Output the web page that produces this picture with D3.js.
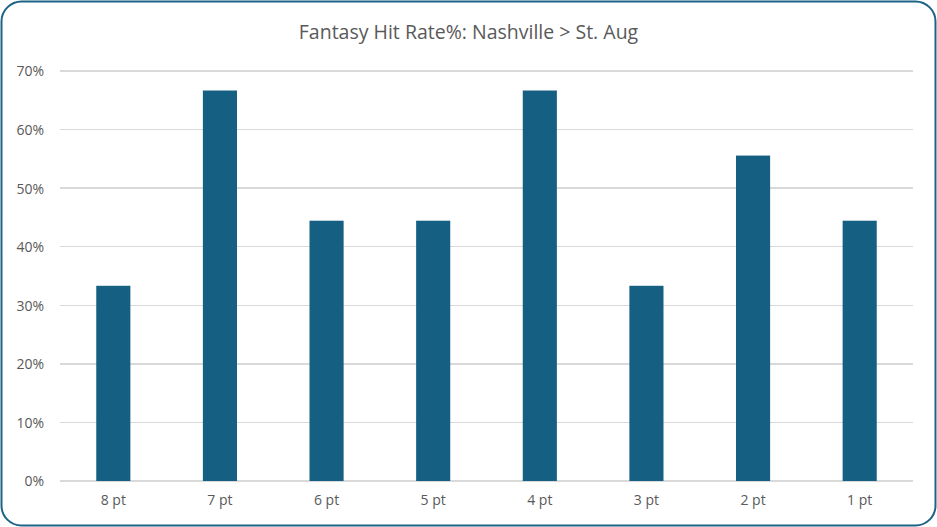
<!DOCTYPE html>
<html>
<head>
<meta charset="utf-8">
<script src="https://cdn.jsdelivr.net/npm/d3@7.8.5/dist/d3.min.js"></script>
<style>
    html, body { margin: 0; padding: 0; background: #fff; }
    svg { display: block; }
    .grid line { stroke: #d9d9d9; stroke-width: 1.5px; shape-rendering: crispEdges; }
</style>
</head>
<body>
<script>
    // Данные графика
    const categories = ['8 pt', '7 pt', '6 pt', '5 pt', '4 pt', '3 pt', '2 pt', '1 pt'];
    const hitRates = [0.3333, 0.6667, 0.4444, 0.4444, 0.6667, 0.3333, 0.5556, 0.4444];
    const yTicks = [0, 0.1, 0.2, 0.3, 0.4, 0.5, 0.6, 0.7];
    const title = 'Fantasy Hit Rate%: Nashville > St. Aug';

    const width = 937, height = 527;
    const plot = { left: 60, right: 913, top: 71, bottom: 481 };
    const font = '"Open Sans", "Noto Sans", sans-serif';

    const svg = d3.select('body').append('svg')
        .attr('width', width)
        .attr('height', height);

    // Рамка
    svg.append('rect')
        .attr('x', 1.5).attr('y', 1.5)
        .attr('width', width - 3).attr('height', height - 3)
        .attr('rx', 20).attr('ry', 20)
        .attr('fill', '#fff')
        .attr('stroke', '#1d6388')
        .attr('stroke-width', 2);

    svg.append('text')
        .attr('x', width / 2)
        .attr('y', 39)
        .attr('text-anchor', 'middle')
        .attr('fill', '#595959')
        .style('font-family', font)
        .style('font-size', '19.5px')
        .text(title);

    const x = d3.scaleBand()
        .domain(categories)
        .range([plot.left, plot.right])
        .paddingInner(0.68)
        .paddingOuter(0.34);

    const y = d3.scaleLinear()
        .domain([0, 0.7])
        .range([plot.bottom, plot.top]);

    // Сетка
    svg.append('g')
        .attr('class', 'grid')
        .selectAll('line')
        .data(yTicks)
        .join('line')
        .attr('x1', plot.left)
        .attr('x2', plot.right)
        .attr('y1', d => y(d))
        .attr('y2', d => y(d));

    // Столбцы
    svg.append('g')
        .selectAll('rect')
        .data(hitRates)
        .join('rect')
        .attr('x', (d, i) => x(categories[i]))
        .attr('y', d => y(d))
        .attr('width', x.bandwidth())
        .attr('height', d => y(0) - y(d))
        .attr('fill', '#156082');

    // Ось Y
    const yAxis = svg.append('g')
        .attr('transform', `translate(${plot.left - 16},0)`)
        .call(d3.axisLeft(y).tickValues(yTicks).tickFormat(d3.format('.0%')).tickSize(0));
    yAxis.select('.domain').remove();
    yAxis.selectAll('text')
        .attr('x', 0).attr('dy', '0.35em')
        .attr('fill', '#595959')
        .style('font-family', font)
        .style('font-size', '14px');

    // Ось X
    const xAxis = svg.append('g')
        .attr('transform', `translate(0,${plot.bottom})`)
        .call(d3.axisBottom(x).tickSize(0));
    xAxis.select('.domain').remove();
    xAxis.selectAll('text')
        .attr('y', 14).attr('dy', '0.71em')
        .attr('fill', '#595959')
        .style('font-family', font)
        .style('font-size', '14px');
</script>
</body>
</html>
